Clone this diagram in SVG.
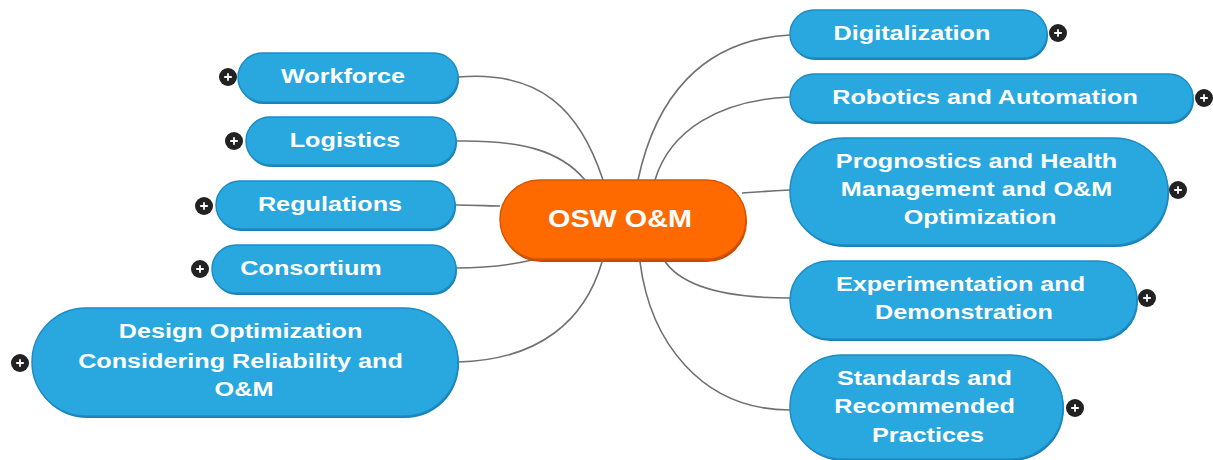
<svg xmlns="http://www.w3.org/2000/svg" width="1213" height="460" viewBox="0 0 1213 460">
  <style>
    .topic rect { fill: #29a8e0; stroke: #1d8cc4; stroke-width: 1.5; }
    .topic .shadow { fill: #1a7fb3; stroke: none; }
    .label { font-family: "Liberation Sans", Arial, sans-serif; font-weight: bold; font-size: 21px; fill: #ffffff; text-anchor: middle; }
    .center-label { font-size: 24px; }
    .links path { fill: none; stroke: #707070; stroke-width: 1.6; }
    .plus circle { fill: #222222; }
    .plus path { stroke: #ffffff; stroke-width: 1.8; }
  </style>
  <defs>
    <g id="plus-icon" class="plus">
      <circle r="9"/>
      <path d="M-3.8 0H3.8M0 -3.8V3.8"/>
    </g>
  </defs>
  <rect width="1213" height="460" fill="#ffffff"/>

  <!-- connectors from the central topic -->
  <g class="links">
    <path d="M458 77 C540 70 580 110 603 180"/>
    <path d="M456 141 C520 140 560 150 585 180"/>
    <path d="M455 205 C475 205 490 206 500 206"/>
    <path d="M456 268 C490 268 515 264 532 260"/>
    <path d="M458 362 C540 360 585 320 602 262"/>
    <path d="M790 35 C700 40 655 100 638 180"/>
    <path d="M790 97 C720 100 670 130 655 180"/>
    <path d="M790 190 C770 191 755 192 742 193"/>
    <path d="M790 298 C720 298 680 285 664 260"/>
    <path d="M790 410 C700 410 650 340 640 262"/>
  </g>

  <!-- central topic -->
  <g id="osw-om">
    <rect x="501" y="182" width="246" height="80" rx="40" fill="#c94a00"/>
    <rect x="500" y="180" width="246" height="79" rx="39.5" fill="#ff6a00" stroke="#d85500" stroke-width="1.5"/>
    <text class="label center-label" transform="translate(620 227) scale(1.2 1)">OSW O&amp;M</text>
  </g>

  <!-- left topics -->
  <g id="workforce" class="topic">
    <rect class="shadow" x="239" y="55" width="220" height="49" rx="24.5"/>
    <rect x="238" y="53" width="220" height="49" rx="24.5"/>
    <text class="label" transform="translate(343 83) scale(1.2 1)">Workforce</text>
    <use href="#plus-icon" x="228" y="77"/>
  </g>
  <g id="logistics" class="topic">
    <rect class="shadow" x="247" y="119" width="210" height="48" rx="24"/>
    <rect x="246" y="117" width="210" height="48" rx="24"/>
    <text class="label" transform="translate(345 147) scale(1.2 1)">Logistics</text>
    <use href="#plus-icon" x="234" y="141"/>
  </g>
  <g id="regulations" class="topic">
    <rect class="shadow" x="217" y="183" width="239" height="48" rx="24"/>
    <rect x="216" y="181" width="239" height="48" rx="24"/>
    <text class="label" transform="translate(330 211) scale(1.2 1)">Regulations</text>
    <use href="#plus-icon" x="204" y="206"/>
  </g>
  <g id="consortium" class="topic">
    <rect class="shadow" x="213" y="247" width="244" height="48" rx="24"/>
    <rect x="212" y="245" width="244" height="48" rx="24"/>
    <text class="label" transform="translate(311 275) scale(1.2 1)">Consortium</text>
    <use href="#plus-icon" x="200" y="269"/>
  </g>
  <g id="design-optimization" class="topic">
    <rect class="shadow" x="33" y="310" width="426" height="108" rx="54"/>
    <rect x="32" y="308" width="426" height="108" rx="54"/>
    <text class="label" transform="translate(244 0) scale(1.2 1)">
      <tspan x="0" y="338">Design Optimization</tspan>
      <tspan x="0" y="368">Considering Reliability and</tspan>
      <tspan x="0" y="396">O&amp;M</tspan>
    </text>
    <use href="#plus-icon" x="20" y="363"/>
  </g>

  <!-- right topics -->
  <g id="digitalization" class="topic">
    <rect class="shadow" x="791" y="12" width="257" height="48" rx="24"/>
    <rect x="790" y="10" width="257" height="48" rx="24"/>
    <text class="label" transform="translate(912 40) scale(1.2 1)">Digitalization</text>
    <use href="#plus-icon" x="1058" y="33"/>
  </g>
  <g id="robotics-automation" class="topic">
    <rect class="shadow" x="791" y="76" width="403" height="48" rx="24"/>
    <rect x="790" y="74" width="403" height="48" rx="24"/>
    <text class="label" transform="translate(985 104) scale(1.2 1)">Robotics and Automation</text>
    <use href="#plus-icon" x="1204" y="98"/>
  </g>
  <g id="prognostics" class="topic">
    <rect class="shadow" x="791" y="140" width="378" height="107" rx="53.5"/>
    <rect x="790" y="138" width="378" height="107" rx="53.5"/>
    <text class="label" transform="translate(980 0) scale(1.2 1)">
      <tspan x="0" y="168">Prognostics and Health</tspan>
      <tspan x="0" y="196">Management and O&amp;M</tspan>
      <tspan x="0" y="224">Optimization</tspan>
    </text>
    <use href="#plus-icon" x="1178" y="190"/>
  </g>
  <g id="experimentation" class="topic">
    <rect class="shadow" x="791" y="263" width="347" height="78" rx="39"/>
    <rect x="790" y="261" width="347" height="78" rx="39"/>
    <text class="label" transform="translate(964 0) scale(1.2 1)">
      <tspan x="0" y="291">Experimentation and</tspan>
      <tspan x="0" y="319">Demonstration</tspan>
    </text>
    <use href="#plus-icon" x="1147" y="298"/>
  </g>
  <g id="standards" class="topic">
    <rect class="shadow" x="791" y="357" width="273" height="104" rx="52"/>
    <rect x="790" y="355" width="273" height="104" rx="52"/>
    <text class="label" transform="translate(928 0) scale(1.2 1)">
      <tspan x="0" y="385">Standards and</tspan>
      <tspan x="0" y="413">Recommended</tspan>
      <tspan x="0" y="442">Practices</tspan>
    </text>
    <use href="#plus-icon" x="1075" y="408"/>
  </g>
</svg>
